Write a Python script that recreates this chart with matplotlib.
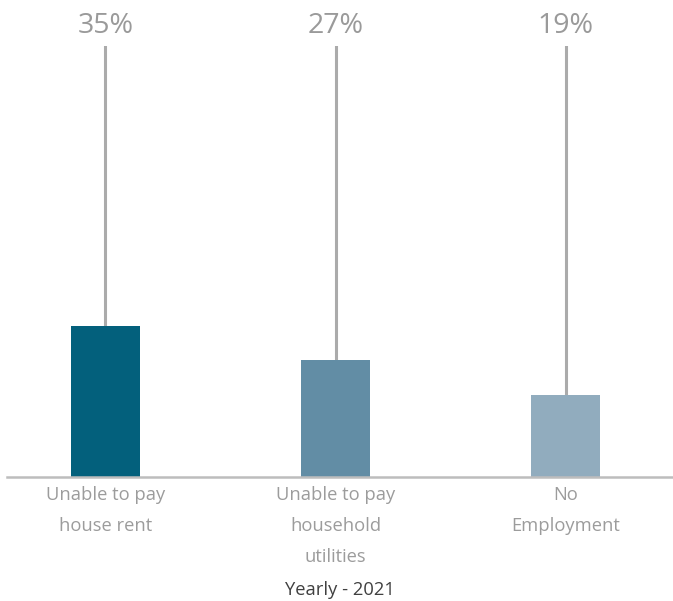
import matplotlib
matplotlib.use("Agg")
import matplotlib.pyplot as plt

categories = ["Unable to pay\nhouse rent", "Unable to pay\nhousehold\nutilities", "No\nEmployment"]
values = [35, 27, 19]
bar_colors = ["#03607C", "#628DA5", "#91ACBE"]
x_title = "Yearly - 2021"

plt.rcParams["font.family"] = ["Open Sans", "DejaVu Sans"]

W, H = 673, 601
fig = plt.figure(figsize=(W / 100, H / 100), dpi=100)
left, right, top, bottom = 7, 673, 45.5, 476.5
ax = fig.add_axes([left / W, 1 - bottom / H, (right - left) / W, (bottom - top) / H])

xs = list(range(len(values)))
ax.bar(xs, values, width=0.3, color=bar_colors, zorder=2)

# leader lines from each bar up to the top, with value labels
for x, v in zip(xs, values):
    ax.plot([x, x], [v, 100], color="#ABABAB", lw=2.2, zorder=1, solid_capstyle="butt")
    ax.annotate(f"{v}%", (x, 100), xytext=(0, 9), textcoords="offset points",
                ha="center", va="baseline", fontsize=20.5, color="#9A9A9A")

ax.set_xlim(-0.428, 2.467)
ax.set_ylim(0, 100)
for s in ["top", "right", "left"]:
    ax.spines[s].set_visible(False)
ax.spines["bottom"].set_color("#BDBDBD")
ax.spines["bottom"].set_linewidth(1.8)
ax.set_yticks([])
ax.set_xticks(xs)
ax.set_xticklabels(categories, fontsize=13.2, color="#9C9C9C", linespacing=1.92)
ax.tick_params(axis="x", length=0, pad=7)

fig.text((left + right) / 2 / W, 1 - 590 / H, x_title, fontsize=13.2,
         color="#404040", ha="center", va="center")

fig.savefig("out.png", dpi=100)
